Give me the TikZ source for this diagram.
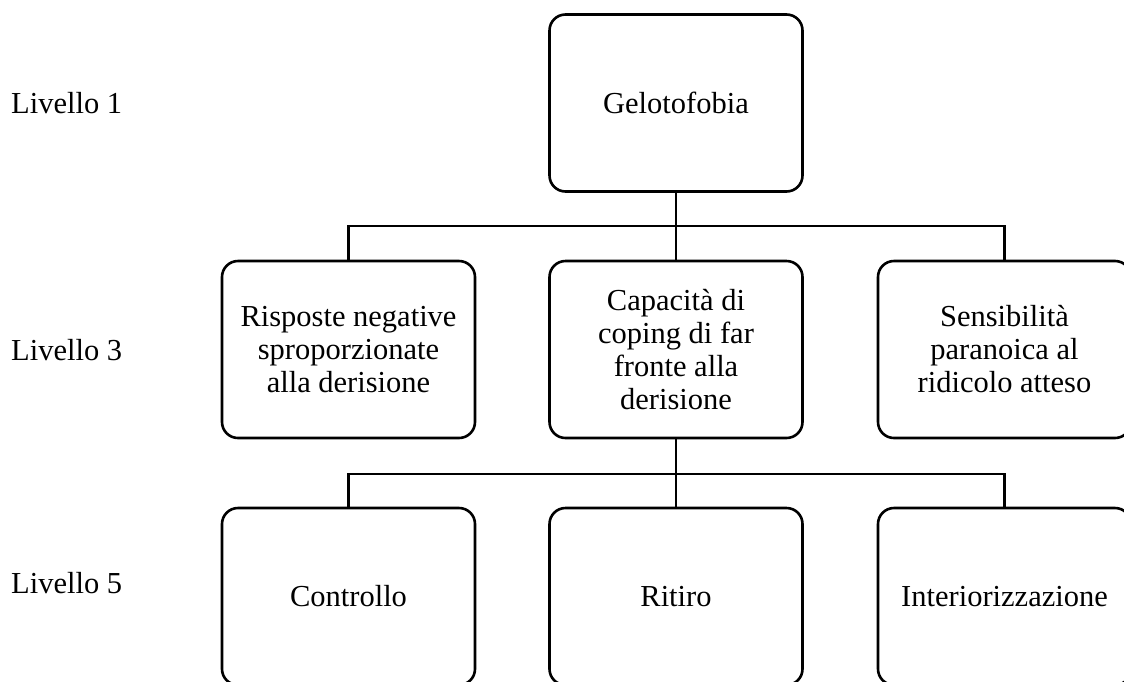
\documentclass[tikz,border=0pt]{standalone}
\usepackage{fontspec}
\setmainfont{Liberation Serif}
\begin{document}
\begin{tikzpicture}[x=1pt,y=-1pt,
  box/.style={draw, line width=2.6pt, rounded corners=16pt, minimum width=253pt, minimum height=177pt, align=center, inner sep=0pt, font=\fontsize{30.5}{33}\selectfont},
  lvl/.style={anchor=west, inner sep=0pt, font=\fontsize{30.5}{33}\selectfont},
  conn/.style={line width=2.6pt}]
\useasboundingbox (0,0) rectangle (1124,681);
\node[box] (g) at (676,103) {Gelotofobia};
\node[box] (a) at (348.5,349.5) {Risposte negative\\sproporzionate\\alla derisione};
\node[box] (b) at (676,349.5) {Capacità di\\coping di far\\fronte alla\\derisione};
\node[box] (c) at (1004.5,349.5) {Sensibilità\\paranoica al\\ridicolo atteso};
\node[box] (d) at (348.5,596.5) {Controllo};
\node[box] (e) at (676,596.5) {Ritiro};
\node[box] (f) at (1004.5,596.5) {Interiorizzazione};
\node[lvl] (l1) at (11,103) {Livello 1};
\node[lvl] (l3) at (11,350) {Livello 3};
\node[lvl] (l5) at (11,583) {Livello 5};
\coordinate (bus1) at (676,226);
\coordinate (bus2) at (676,474);
\draw[conn] (g.south) -- (bus1);
\draw[conn] (bus1) -| (a.north);
\draw[conn] (bus1) -| (c.north);
\draw[conn] (bus1) -- (b.north);
\draw[conn] (b.south) -- (bus2);
\draw[conn] (bus2) -| (d.north);
\draw[conn] (bus2) -| (f.north);
\draw[conn] (bus2) -- (e.north);
\end{tikzpicture}
\end{document}
